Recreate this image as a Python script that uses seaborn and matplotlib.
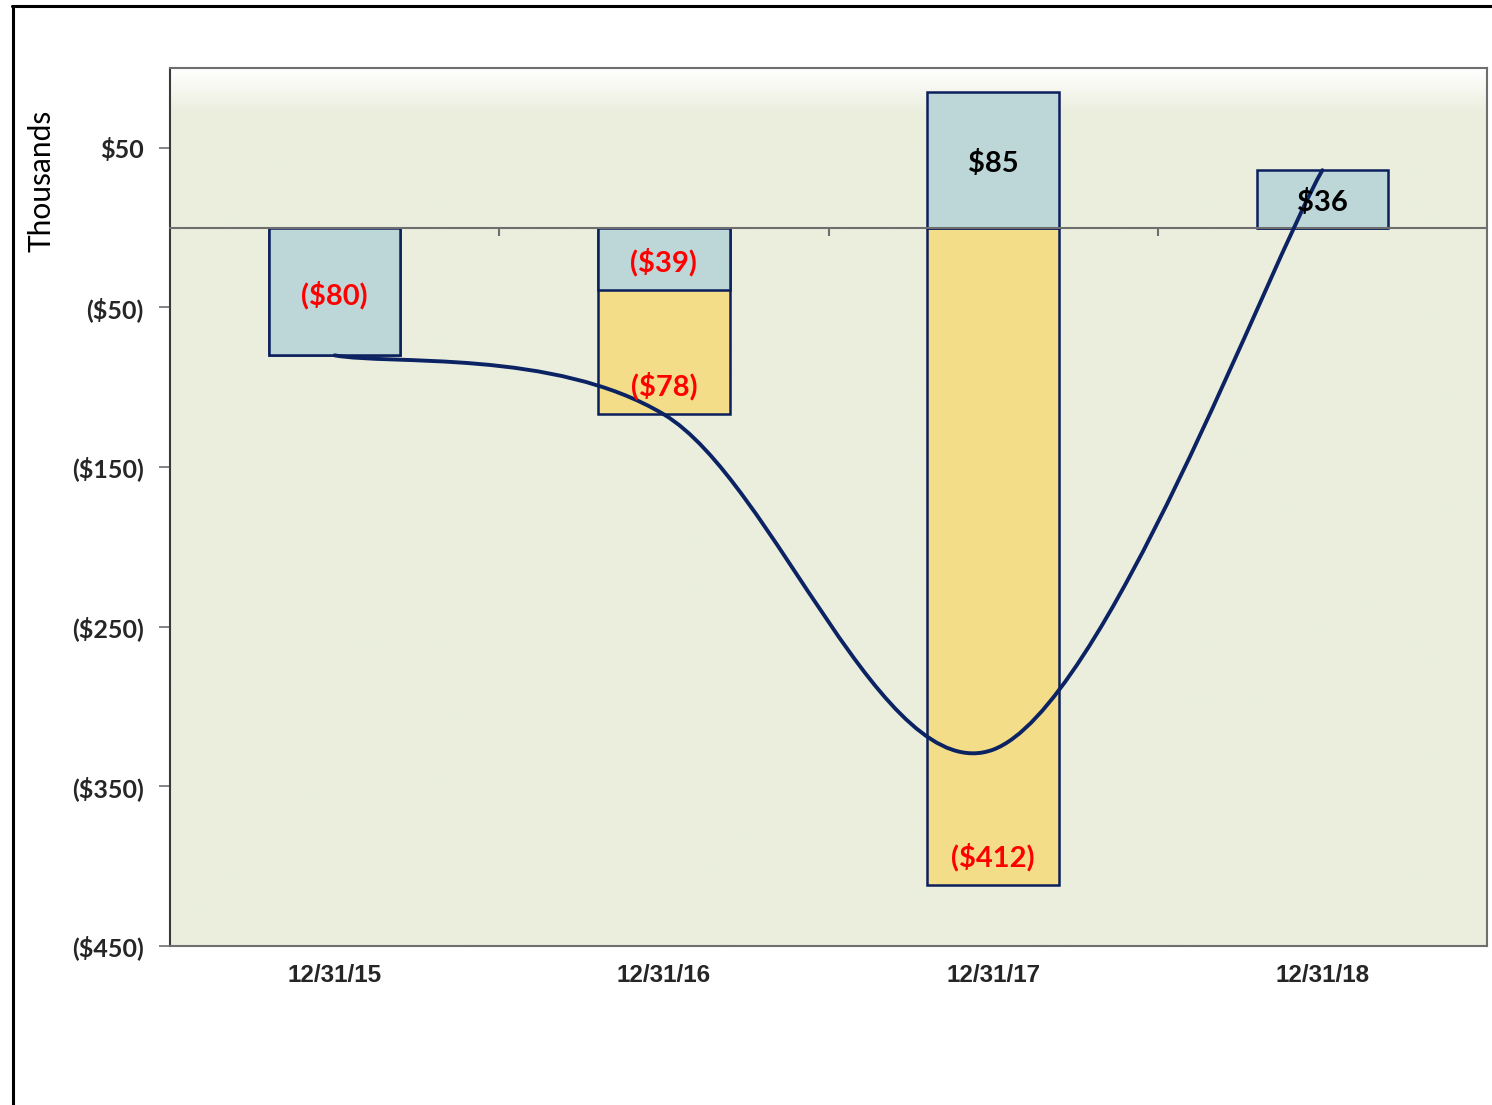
import numpy as np
import pandas as pd
import matplotlib
matplotlib.use("Agg")
import matplotlib.pyplot as plt
import seaborn as sns
from matplotlib.path import Path
from matplotlib.patches import PathPatch
from matplotlib.lines import Line2D
from matplotlib.ticker import FuncFormatter
from matplotlib.colors import LinearSegmentedColormap

# ---- data (thousands of $) ----
dates = ["12/31/15", "12/31/16", "12/31/17", "12/31/18"]
blue_vals = [-80, -39, 85, 36]
yellow_vals = [0, -78, -412, 0]
yticks = [-450, -350, -250, -150, -50, 50]
ylim = (-450, 100)

BLUE = "#BDD7D9"
YELLOW = "#F3DD88"
EDGE = "#0B1F5C"
LINE = "#0B2263"
GRID = "#6E6E6E"

sns.set_theme(style="white")
plt.rcParams["font.family"] = ["Lato", "DejaVu Sans"]

fig = plt.figure(figsize=(14.92, 11.05), dpi=100)
ax = fig.add_axes([170 / 1492, 1 - 946 / 1105, (1487 - 170) / 1492, (946 - 68) / 1105])

# background gradient
bg_cmap = LinearSegmentedColormap.from_list("bg", ["#EBEEDD", "#EBEEDD", "#FFFFFF"])
grad = np.linspace(0, 1, 400).reshape(-1, 1)
grad = np.clip((grad - 0.90) / 0.10, 0, 1)
ax.imshow(grad, cmap=bg_cmap, origin="lower", extent=[0, 1, 0, 1],
          transform=ax.transAxes, aspect="auto", zorder=0, interpolation="bilinear")

# stacked bars: yellow drawn as cumulative (stacked under negative blue), blue on top
blue = np.array(blue_vals, dtype=float)
yellow = np.array(yellow_vals, dtype=float)
yellow_base = np.where(blue < 0, blue, 0.0)
yellow_end = yellow_base + yellow
df = pd.DataFrame({"date": dates, "blue": blue, "yellow_end": yellow_end})
sns.barplot(data=df, x="date", y="yellow_end", color=YELLOW, saturation=1,
            width=0.4, edgecolor=EDGE, linewidth=1.8, errorbar=None, ax=ax,
            zorder=2, order=dates)
sns.barplot(data=df, x="date", y="blue", color=BLUE, saturation=1,
            width=0.4, edgecolor=EDGE, linewidth=1.8, errorbar=None, ax=ax,
            zorder=3, order=dates)

# smoothed total line (Catmull-Rom style Bezier through totals)
totals = blue + yellow
pts = np.column_stack([np.arange(len(dates), dtype=float), totals])
verts = [tuple(pts[0])]
codes = [Path.MOVETO]
n = len(pts)
for i in range(n - 1):
    p0 = pts[max(i - 1, 0)]
    p1 = pts[i]
    p2 = pts[i + 1]
    p3 = pts[min(i + 2, n - 1)]
    c1 = p1 + (p2 - p0) / 6
    c2 = p2 - (p3 - p1) / 6
    verts += [tuple(c1), tuple(c2), tuple(p2)]
    codes += [Path.CURVE4] * 3
ax.add_patch(PathPatch(Path(verts, codes), facecolor="none", edgecolor=LINE,
                       lw=2.8, zorder=5, transform=ax.transData, capstyle="round"))

# labels
def money(v):
    return f"${v:.0f}" if v >= 0 else f"(${-v:.0f})"

for i, v in enumerate(blue):
    ax.annotate(money(v), (i, v / 2), xytext=(0, -2.5), textcoords="offset points",
                ha="center", va="center", fontsize=21, fontweight="bold",
                color="red" if v < 0 else "black", zorder=6)
for i, v in enumerate(yellow):
    if v != 0:
        ax.annotate(money(v), (i, yellow_end[i]), xytext=(0, 20),
                    textcoords="offset points", ha="center", va="center",
                    fontsize=21, fontweight="bold", color="red", zorder=6)

# axes formatting
ax.set_xlim(-0.5, len(dates) - 0.5)
ax.set_ylim(*ylim)
ax.set_yticks(yticks)
ax.yaxis.set_major_formatter(FuncFormatter(lambda v, p: money(v)))
ax.tick_params(axis="y", left=True, length=8, width=1.2, color=GRID, pad=11,
               labelsize=18)
for lab in ax.get_yticklabels():
    lab.set_fontweight("bold")
ax.tick_params(axis="x", bottom=False, length=0, pad=13)
ax.set_xticks(range(len(dates)))
ax.set_xticklabels(dates, fontsize=17.5, fontweight="bold",
                   family=["Liberation Sans", "DejaVu Sans"])
ax.set_xlabel("")
ax.set_ylabel("Thousands", fontsize=21.5, color="black")
ax.yaxis.set_label_coords(-0.0975, 0.871)
ax.yaxis.label.set_va("center")
for s in ["left", "right", "top", "bottom"]:
    ax.spines[s].set_visible(True)
    ax.spines[s].set_color(GRID)
    ax.spines[s].set_linewidth(1.5)
ax.spines["left"].set_color("#3A3A3A")

# zero line with category-boundary ticks
loc0 = (0 - ylim[0]) / (ylim[1] - ylim[0])
sec = ax.secondary_xaxis(loc0)
sec.set_xticks(np.arange(0.5, len(dates) - 0.5, 1.0))
sec.xaxis.set_ticks_position("bottom")
sec.tick_params(axis="x", direction="out", length=6, width=1.5, color=GRID,
                labelbottom=False, labeltop=False)
for s in sec.spines.values():
    s.set_color(GRID)
    s.set_linewidth(1.5)
sec.set_zorder(4)

# figure border (top and left visible)
fig.add_artist(Line2D([12 / 1492, 1.0], [1 - 5.5 / 1105] * 2, color="black",
                      lw=2.2, transform=fig.transFigure))
fig.add_artist(Line2D([12.5 / 1492] * 2, [0, 1 - 5.5 / 1105], color="black",
                      lw=2.2, transform=fig.transFigure))

fig.savefig("out.png", dpi=100)
